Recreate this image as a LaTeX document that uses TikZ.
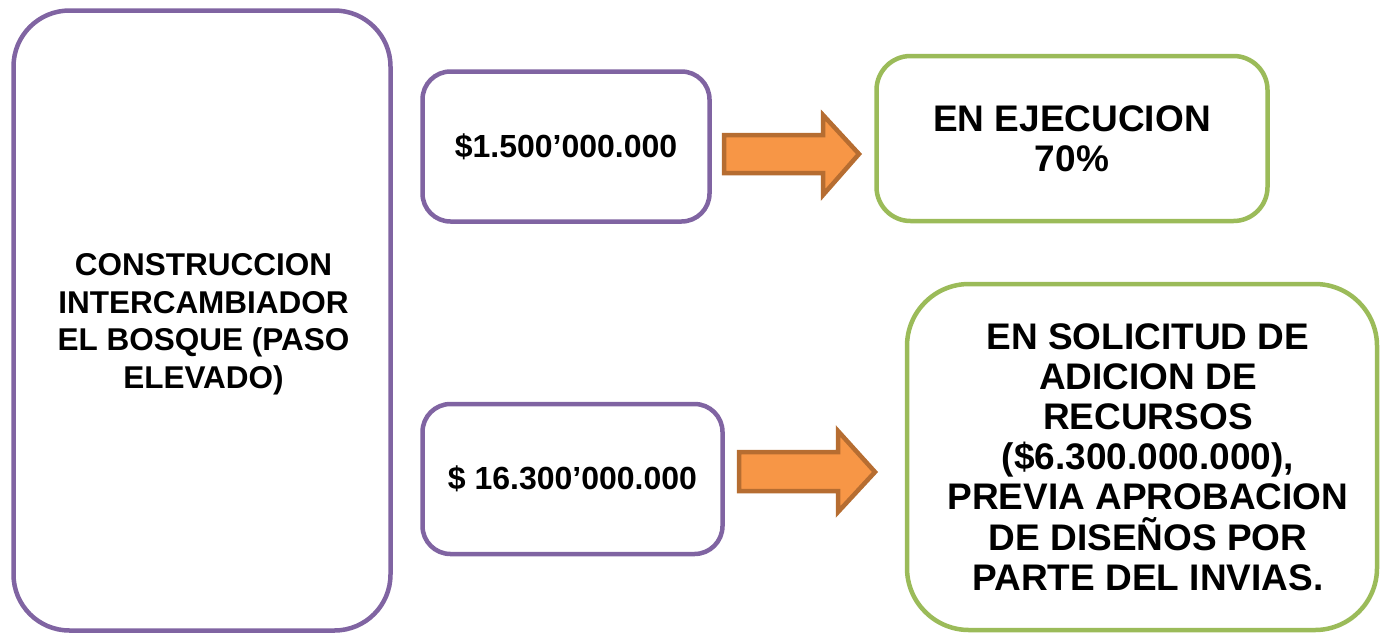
\documentclass[tikz,border=0pt]{standalone}
\usepackage{fontspec}
\setmainfont{Liberation Sans}
\definecolor{purp}{HTML}{8064A2}
\definecolor{grn}{HTML}{9BBB59}
\definecolor{orf}{HTML}{F79646}
\definecolor{ord}{HTML}{B66D31}
\tikzset{
  pbox/.style={draw=purp, line width=4.5pt, fill=white, align=center, inner sep=0pt},
  gbox/.style={draw=grn, line width=4.5pt, fill=white, align=center, inner sep=0pt},
  txt/.style={align=center, inner sep=0pt},
  arr/.style={draw=ord, fill=orf, line width=4.5pt, line join=miter},
}
\begin{document}
\begin{tikzpicture}[x=1pt,y=-1pt]
\useasboundingbox (0,0) rectangle (1380,633);
\node[pbox, rounded corners=56pt, minimum width=377pt, minimum height=620pt] (main) at (202,320.5) {};
\node[txt, font=\bfseries\fontsize{31.5}{37.5}\selectfont] (maintxt) at ([xshift=1.5pt,yshift=-4pt]main.center)
  {CONSTRUCCION\\INTERCAMBIADOR\\EL BOSQUE (PASO\\ELEVADO)};
\node[pbox, rounded corners=28pt, minimum width=287pt, minimum height=150pt,
      font=\bfseries\fontsize{32}{38}\selectfont] (m1) at (566,146.5) {\$1.500’000.000};
\node[pbox, rounded corners=28pt, minimum width=300pt, minimum height=150pt,
      font=\bfseries\fontsize{32}{38}\selectfont] (m2) at (572.5,479) {\$ 16.300’000.000};
\node[gbox, rounded corners=34pt, minimum width=391pt, minimum height=165pt,
      font=\bfseries\fontsize{37}{40}\selectfont] (s1) at (1072,138.5) {EN EJECUCION\\70\%};
\node[gbox, rounded corners=62pt, minimum width=470pt, minimum height=346pt] (s2) at (1142,457) {};
\node[txt, font=\bfseries\fontsize{37}{40.2}\selectfont] (s2txt) at ([xshift=6pt]s2.center)
  {EN SOLICITUD DE\\ADICION DE\\RECURSOS\\(\$6.300.000.000),\\PREVIA APROBACION\\DE DISEÑOS POR\\PARTE DEL INVIAS.};
\draw[arr] (724,135) -- (823,135) -- (823,115) -- (859,154) -- (823,195) -- (823,173) -- (724,173) -- cycle;
\draw[arr] (739,452) -- (838,452) -- (838,431) -- (875,472) -- (838,512) -- (838,491) -- (739,491) -- cycle;
\end{tikzpicture}
\end{document}
